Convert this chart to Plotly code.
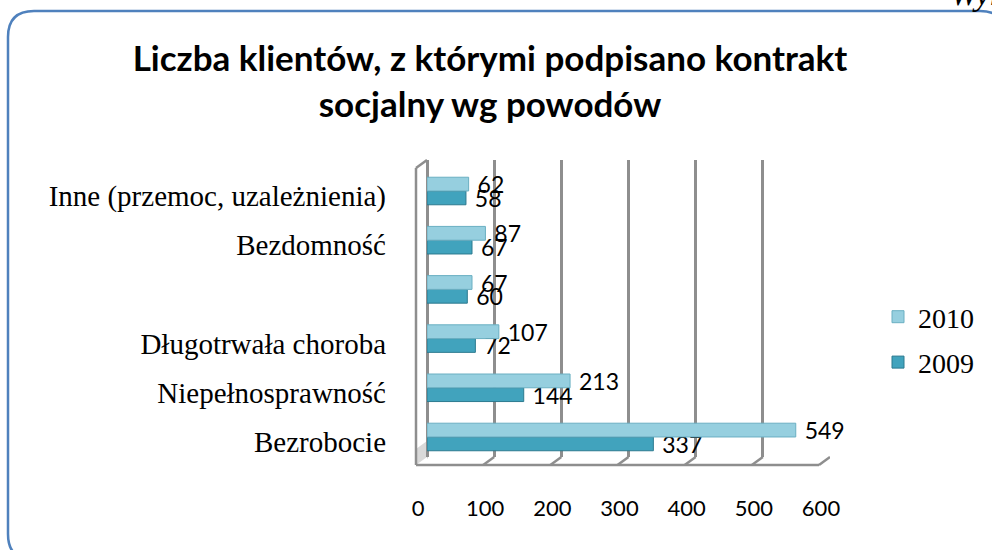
import plotly.graph_objects as go

# ---- data (bottom -> top) ----
categories = ["Bezrobocie", "Niepełnosprawność", "Długotrwała choroba", " ", "Bezdomność",
              "Inne (przemoc, uzależnienia)"]
values_2009 = [337, 144, 72, 60, 67, 58]
values_2010 = [549, 213, 107, 67, 87, 62]
series_names = ["2009", "2010"]
x_ticks = [0, 100, 200, 300, 400, 500, 600]
title_text = "Liczba klientów, z którymi podpisano kontrakt<br>socjalny wg powodów"

W, H = 992, 550
L, T, R, B = 427, 160, 830, 457  # plot area in pixels
PW, PH = R - L, B - T


def px(xp):
    return (xp - L) / PW


def py(yp):
    return (B - yp) / PH


fig = go.Figure()
fig.add_trace(go.Bar(
    y=categories, x=values_2009, name=series_names[0], orientation="h",
    marker=dict(color="#41A3BD", line=dict(color="#2C7A8F", width=1)),
    texttemplate="\u00a0%{x}", textposition="outside", constraintext="none",
    textangle=0, cliponaxis=False,
    textfont=dict(family="Lato", size=23, color="#000000"),
    legendrank=2, legendgroup="g2009",
))
fig.add_trace(go.Bar(
    y=categories, x=values_2010, name=series_names[1], orientation="h",
    marker=dict(color="#96CFDF", line=dict(color="#6AAFC2", width=1)),
    texttemplate="\u00a0%{x}", textposition="outside", constraintext="none",
    textangle=0, cliponaxis=False,
    textfont=dict(family="Lato", size=23, color="#000000"),
    legendrank=1, legendgroup="g2010",
))

grid_col = "#8E8E8E"
shapes = []
# rounded chart frame
x0, y0, x1, y1, r = 8, 11, 1006, 560, 26
path = (f"M{px(x0 + r)},{py(y0)} L{px(x1 - r)},{py(y0)} Q{px(x1)},{py(y0)} {px(x1)},{py(y0 + r)} "
        f"L{px(x1)},{py(y1 - r)} Q{px(x1)},{py(y1)} {px(x1 - r)},{py(y1)} "
        f"L{px(x0 + r)},{py(y1)} Q{px(x0)},{py(y1)} {px(x0)},{py(y1 - r)} "
        f"L{px(x0)},{py(y0 + r)} Q{px(x0)},{py(y0)} {px(x0 + r)},{py(y0)} Z")
shapes.append(dict(type="path", xref="paper", yref="paper", path=path,
                   line=dict(color="#4F81BD", width=2.5), layer="below"))
# left wall
shapes.append(dict(type="path", xref="paper", yref="paper",
                   path=f"M{px(L - 11)},{py(449)} L{px(L)},{py(441)} L{px(L)},{py(457)} L{px(L - 11)},{py(465)} Z",
                   fillcolor="#D9D9D9", line=dict(width=0), layer="below"))
shapes.append(dict(type="line", xref="paper", yref="paper", x0=px(L - 11), y0=py(168), x1=px(L - 11), y1=py(465),
                   line=dict(color=grid_col, width=2.5)))
shapes.append(dict(type="line", xref="paper", yref="paper", x0=px(L - 11), y0=py(168), x1=px(L), y1=py(160),
                   line=dict(color=grid_col, width=2.5)))
# floor front edge
shapes.append(dict(type="line", xref="paper", yref="paper", x0=px(L - 11), y0=py(465), x1=px(R - 11), y1=py(465),
                   line=dict(color=grid_col, width=2.5)))
# floor diagonals at each gridline
for v in x_ticks:
    shapes.append(dict(type="line", xref="x", xsizemode="pixel", xanchor=v, x0=0, x1=-11,
                       yref="paper", y0=py(B), y1=py(465), line=dict(color=grid_col, width=2.5)))

fig.update_layout(
    width=W, height=H,
    margin=dict(l=L, r=W - R, t=T, b=H - B, pad=0),
    paper_bgcolor="white", plot_bgcolor="white",
    barmode="group", bargap=0.44, bargroupgap=0.0,
    title=dict(text=title_text, x=490 / W, xanchor="center", xref="container",
               y=1 - 71 / H, yanchor="top",
               font=dict(family="Lato", size=35, color="#000000", weight="bold")),
    xaxis=dict(range=[0, 600], tickvals=x_ticks, showgrid=True, gridcolor=grid_col, gridwidth=2.5,
               zeroline=True, zerolinecolor=grid_col, zerolinewidth=2.5, showline=False,
               ticks="", ticklabelshift=-9, ticklabelstandoff=36,
               tickfont=dict(family="Lato", size=22, color="#000000"), fixedrange=True),
    yaxis=dict(categoryorder="array", categoryarray=categories, range=[-0.407, 5.63],
               showgrid=False, zeroline=False, showline=False, ticks="",
               ticklabelstandoff=40, ticklabelshift=5,
               tickfont=dict(family="Liberation Serif", size=29, color="#000000"), fixedrange=True),
    legend=dict(x=px(878), xanchor="left", y=py(292), yanchor="top",
                font=dict(family="Liberation Serif", size=28, color="#000000"),
                traceorder="grouped", tracegroupgap=6, bgcolor="rgba(0,0,0,0)"),
    shapes=shapes,
    annotations=[dict(text="<i>Wykres</i>", xref="paper", yref="paper", x=px(948), y=py(14),
                      xanchor="left", yanchor="bottom", showarrow=False,
                      font=dict(family="Liberation Serif", size=34, color="#000000"))],
    showlegend=True,
)

fig.write_html("out.html", config={"displayModeBar": False},
               post_script="document.body.style.margin='0';")
